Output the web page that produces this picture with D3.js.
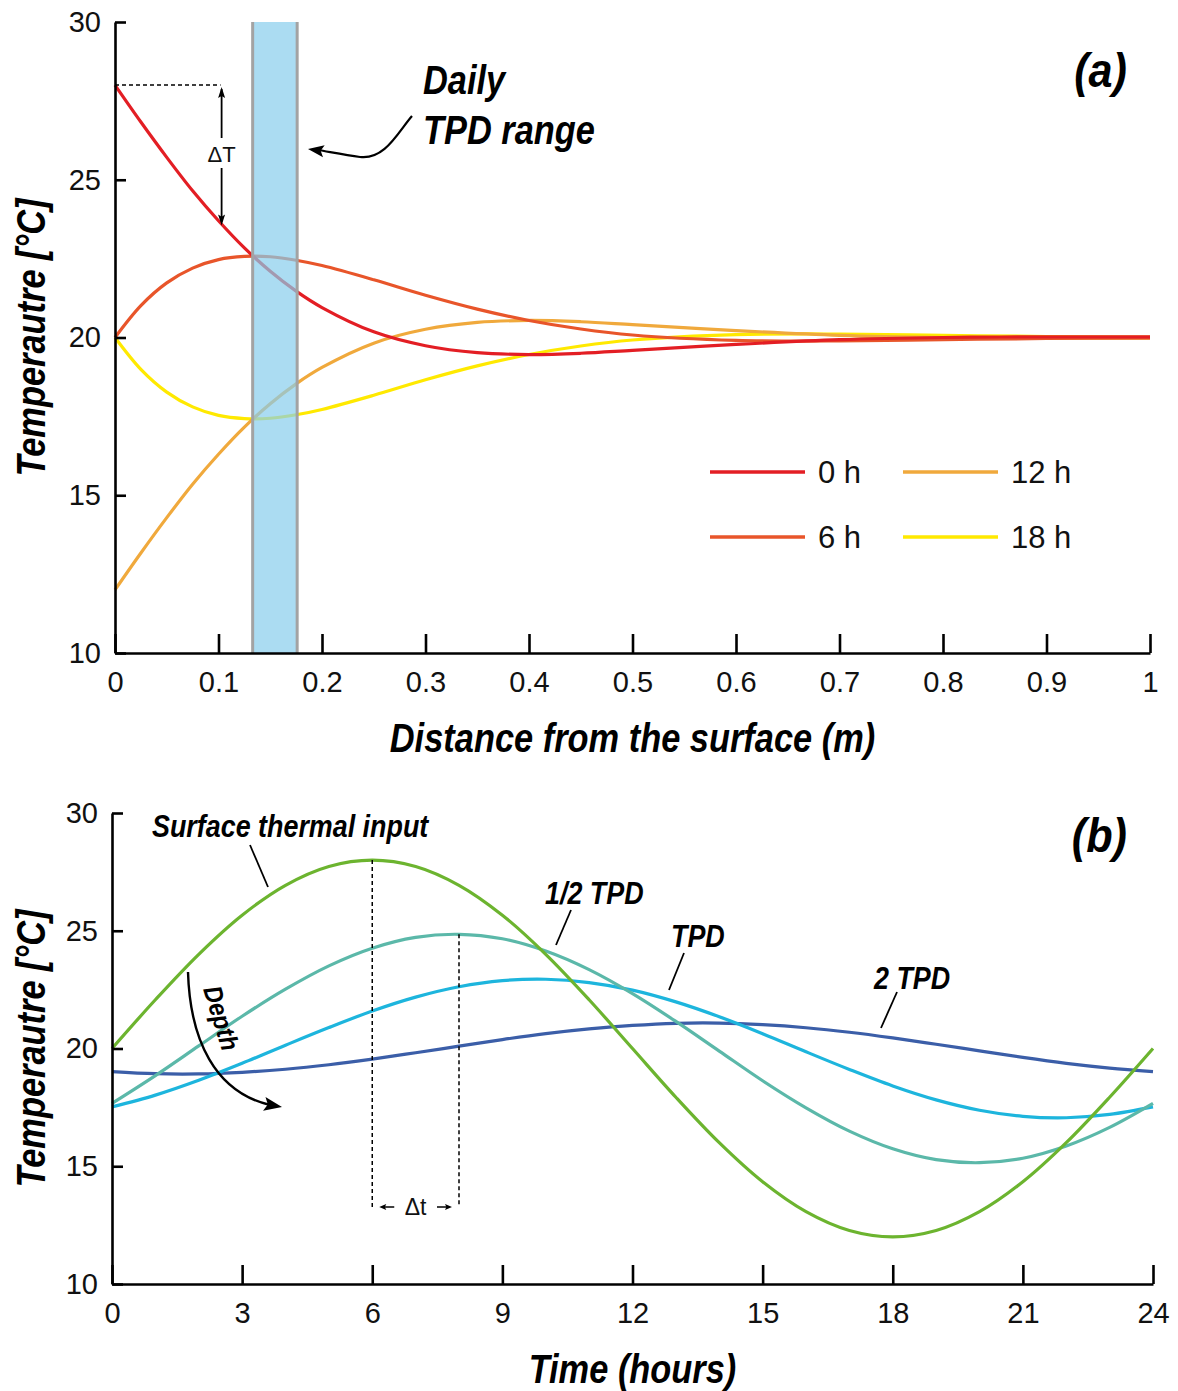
<!DOCTYPE html>
<html>
<head>
<meta charset="utf-8">
<script src="https://cdn.jsdelivr.net/npm/d3@7"></script>
<style>
  body { margin: 0; background: #fff; }
  svg { display: block; }
  .tick text { font-family: "Liberation Sans", Arial, sans-serif; font-size: 29px; fill: #111; }
  .ttl { font-family: "Liberation Sans Narrow", "Liberation Sans", Arial, sans-serif; font-weight: bold; font-style: italic; fill: #000; }
  .lbl { font-family: "Liberation Sans", Arial, sans-serif; fill: #111; }
</style>
</head>
<body>
<svg id="chart" width="1178" height="1391"></svg>
<script>
// ---- panel (a): temperature profile vs depth ----
const distance = [0, 0.025, 0.05, 0.075, 0.1, 0.125, 0.15, 0.175, 0.2, 0.25, 0.3, 0.35, 0.4, 0.45, 0.5, 0.6, 0.7, 0.8, 0.9, 1.0];
const temp0h  = [28, 26.83, 25.71, 24.65, 23.70, 22.84, 22.10, 21.47, 20.95, 20.18, 19.74, 19.52, 19.46, 19.50, 19.59, 19.78, 19.93, 20.0, 20.02, 20.02];
const temp6h  = [20, 21.01, 21.73, 22.20, 22.47, 22.57, 22.56, 22.45, 22.28, 21.83, 21.34, 20.90, 20.54, 20.27, 20.08, 19.91, 19.89, 19.93, 19.97, 19.99];
const temp12h = [12, 13.17, 14.29, 15.35, 16.30, 17.16, 17.90, 18.53, 19.05, 19.82, 20.26, 20.48, 20.54, 20.50, 20.41, 20.22, 20.07, 20.0, 19.98, 19.98];
const temp18h = [20, 18.99, 18.27, 17.80, 17.53, 17.43, 17.44, 17.55, 17.72, 18.17, 18.66, 19.10, 19.46, 19.73, 19.92, 20.09, 20.11, 20.07, 20.03, 20.01];
const profileNames = ["0 h", "6 h", "12 h", "18 h"];
const profileColors = ["#e31e24", "#e8552a", "#f0a93c", "#ffe900"];
const tpdRange = [0.133, 0.176];
const xTicksA = [0, 0.1, 0.2, 0.3, 0.4, 0.5, 0.6, 0.7, 0.8, 0.9, 1];
const yTicks = [10, 15, 20, 25, 30];

// ---- panel (b): temperature vs time at several depths ----
const hours = [0,1,2,3,4,5,6,7,8,9,10,11,12,13,14,15,16,17,18,19,20,21,22,23,24];
const surface = [20, 22.07, 24, 25.66, 26.93, 27.73, 28, 27.73, 26.93, 25.66, 24, 22.07, 20, 17.93, 16, 14.34, 13.07, 12.27, 12, 12.27, 13.07, 14.34, 16, 17.93, 20];
const halfTpd = [17.67, 18.85, 20.11, 21.37, 22.52, 23.51, 24.26, 24.72, 24.85, 24.66, 24.14, 23.35, 22.33, 21.15, 19.89, 18.63, 17.48, 16.49, 15.74, 15.28, 15.15, 15.34, 15.86, 16.65, 17.67];
const oneTpd  = [17.52, 18.02, 18.65, 19.37, 20.14, 20.89, 21.59, 22.18, 22.62, 22.88, 22.94, 22.80, 22.48, 21.98, 21.35, 20.63, 19.86, 19.11, 18.41, 17.82, 17.38, 17.12, 17.06, 17.20, 17.52];
const twoTpd  = [19.02, 18.93, 18.92, 18.99, 19.12, 19.31, 19.55, 19.82, 20.10, 20.38, 20.63, 20.83, 20.98, 21.07, 21.08, 21.01, 20.88, 20.69, 20.45, 20.18, 19.90, 19.62, 19.37, 19.17, 19.02];
const depthColors = ["#6cb42f", "#5bb8a9", "#1db5dd", "#3b5ea8"];
const xTicksB = [0, 3, 6, 9, 12, 15, 18, 21, 24];

const svg = d3.select("#chart");

const xA = d3.scaleLinear().domain([0, 1]).range([115, 1150]);
const yA = d3.scaleLinear().domain([10, 30]).range([653, 22]);
const xB = d3.scaleLinear().domain([0, 24]).range([112, 1153]);
const yB = d3.scaleLinear().domain([10, 30]).range([1284, 813]);

function drawAxes(x, y, xTicks) {
  const gx = svg.append("g")
    .attr("transform", `translate(0,${y.range()[0]})`)
    .call(d3.axisBottom(x).tickValues(xTicks).tickFormat(d => String(d))
      .tickSizeInner(-19).tickSizeOuter(0).tickPadding(18));
  const gy = svg.append("g")
    .attr("transform", `translate(${x.range()[0]},0)`)
    .call(d3.axisLeft(y).tickValues(yTicks).tickSizeInner(-11).tickSizeOuter(0).tickPadding(14));
  [gx, gy].forEach(g => {
    g.select(".domain").attr("stroke", "#000").attr("stroke-width", 2.6);
    g.selectAll(".tick line").attr("stroke", "#000").attr("stroke-width", 2.6);
  });
}

// condensed bold-italic text (no narrow font installed, so squeeze horizontally)
function title(x, y, text, size, opts = {}) {
  const sx = opts.sx || 0.86;
  const rot = opts.rotate ? ` rotate(${opts.rotate})` : "";
  return svg.append("text").attr("class", "ttl")
    .attr("transform", `translate(${x},${y})${rot} scale(${sx},1)`)
    .attr("text-anchor", opts.anchor || "start")
    .attr("font-size", size)
    .text(text);
}

function arrowHead(x, y, angle, len, wid) {
  // filled triangle with its tip at (x, y), pointing along angle (degrees)
  svg.append("path")
    .attr("d", `M0,0 L${-len},${-wid} L${-len * 0.8},0 L${-len},${wid} Z`)
    .attr("transform", `translate(${x},${y}) rotate(${angle})`)
    .attr("fill", "#000");
}

// ================= panel (a) =================
const lineA = d3.line().x(d => xA(d[0])).y(d => yA(d[1])).curve(d3.curveCatmullRom.alpha(0.5));
const profiles = [temp0h, temp6h, temp12h, temp18h];

svg.append("g").selectAll("path")
  .data(profiles.map((p, i) => ({ values: distance.map((x, j) => [x, p[j]]), color: profileColors[i] })).reverse())
  .join("path")
  .attr("d", d => lineA(d.values))
  .attr("fill", "none")
  .attr("stroke", d => d.color)
  .attr("stroke-width", 3.2);

// daily TPD band (drawn over the curves, semi-transparent)
svg.append("rect")
  .attr("x", xA(tpdRange[0])).attr("y", yA(30))
  .attr("width", xA(tpdRange[1]) - xA(tpdRange[0]))
  .attr("height", yA(10) - yA(30))
  .attr("fill", "#88cdec").attr("fill-opacity", 0.7);
tpdRange.forEach(v => {
  svg.append("line")
    .attr("x1", xA(v)).attr("x2", xA(v)).attr("y1", yA(30)).attr("y2", yA(10))
    .attr("stroke", "#a3a3a3").attr("stroke-width", 3);
});

drawAxes(xA, yA, xTicksA);

// legend
const legend = svg.append("g");
profileNames.forEach((name, i) => {
  const col = Math.floor(i / 2), row = i % 2;
  const lx = 710 + col * 193, ly = 472 + row * 65;
  legend.append("line").attr("x1", lx).attr("x2", lx + 95).attr("y1", ly).attr("y2", ly)
    .attr("stroke", profileColors[i]).attr("stroke-width", 3.5);
  legend.append("text").attr("class", "lbl").attr("x", lx + 108).attr("y", ly + 11)
    .attr("font-size", 31).text(name);
});

// delta T annotation
svg.append("line")
  .attr("x1", xA(0)).attr("x2", xA(0.102)).attr("y1", yA(28)).attr("y2", yA(28))
  .attr("stroke", "#000").attr("stroke-width", 1.5).attr("stroke-dasharray", "4,3");
const dTx = xA(0.103);
svg.append("line").attr("x1", dTx).attr("x2", dTx).attr("y1", yA(28) + 4).attr("y2", 138)
  .attr("stroke", "#000").attr("stroke-width", 1.8);
svg.append("line").attr("x1", dTx).attr("x2", dTx).attr("y1", 168).attr("y2", yA(temp0h[4] - 0.15) - 4)
  .attr("stroke", "#000").attr("stroke-width", 1.8);
arrowHead(dTx, yA(28) + 2, -90, 11, 3.5);
arrowHead(dTx, yA(temp0h[4] - 0.15), 90, 11, 3.5);
svg.append("text").attr("class", "lbl").attr("x", dTx).attr("y", 162)
  .attr("text-anchor", "middle").attr("font-size", 22).text("\u0394T");

// Daily TPD range label + curved arrow
title(423, 94, "Daily", 40);
title(423, 144, "TPD range", 40);
svg.append("path")
  .attr("d", "M412,116 C398,132 385,160 360,157 C345,155 330,152 318,150")
  .attr("fill", "none").attr("stroke", "#000").attr("stroke-width", 2.2);
arrowHead(308, 149, 188, 16, 6);

title(1127, 87, "(a)", 48, { anchor: "end", sx: 0.9 });

title(xA(0.5), 752, "Distance from the surface (m)", 40, { anchor: "middle" });
title(45, yA(20), "Temperautre [\u00B0C]", 40, { anchor: "middle", rotate: -90 });

// ================= panel (b) =================
const lineB = d3.line().x((d, i) => xB(hours[i])).y(d => yB(d)).curve(d3.curveCatmullRom.alpha(0.5));
const series = [surface, halfTpd, oneTpd, twoTpd];

svg.append("g").selectAll("path")
  .data(series.map((s, i) => ({ values: s, color: depthColors[i] })).reverse())
  .join("path")
  .attr("d", d => lineB(d.values))
  .attr("fill", "none")
  .attr("stroke", d => d.color)
  .attr("stroke-width", 3.2);

drawAxes(xB, yB, xTicksB);

// phase lag annotation
const lagY = 1207;
[[6, 28], [8, 24.85]].forEach(([t, v]) => {
  svg.append("line").attr("x1", xB(t)).attr("x2", xB(t)).attr("y1", yB(v)).attr("y2", lagY)
    .attr("stroke", "#000").attr("stroke-width", 1.5).attr("stroke-dasharray", "4,3");
});
svg.append("line").attr("x1", xB(6) + 22).attr("x2", xB(6) + 12).attr("y1", lagY).attr("y2", lagY)
  .attr("stroke", "#000").attr("stroke-width", 1.5);
arrowHead(xB(6) + 7, lagY, 180, 7, 3);
svg.append("line").attr("x1", xB(8) - 22).attr("x2", xB(8) - 12).attr("y1", lagY).attr("y2", lagY)
  .attr("stroke", "#000").attr("stroke-width", 1.5);
arrowHead(xB(8) - 7, lagY, 0, 7, 3);
svg.append("text").attr("class", "lbl").attr("x", (xB(6) + xB(8)) / 2).attr("y", lagY + 8)
  .attr("text-anchor", "middle").attr("font-size", 23).text("\u0394t");

// series labels with leader lines
const seriesLabels = [
  { text: "Surface thermal input", x: 152, y: 837, l: [250, 845, 268, 887] },
  { text: "1/2 TPD", x: 545, y: 904, l: [571, 910, 556, 945] },
  { text: "TPD", x: 671, y: 947, l: [684, 953, 669, 990] },
  { text: "2 TPD", x: 874, y: 989, l: [897, 992, 881, 1028] }
];
seriesLabels.forEach(d => {
  title(d.x, d.y, d.text, 32, { sx: 0.84 });
  svg.append("line").attr("x1", d.l[0]).attr("y1", d.l[1]).attr("x2", d.l[2]).attr("y2", d.l[3])
    .attr("stroke", "#000").attr("stroke-width", 1.8);
});

// depth arrow
svg.append("path")
  .attr("d", "M188,972 C190,1040 215,1092 270,1105")
  .attr("fill", "none").attr("stroke", "#000").attr("stroke-width", 2.4);
arrowHead(282, 1107, 10, 18, 7);
title(203, 989, "Depth", 26, { rotate: 73, sx: 0.9 }).attr("font-style", "normal");

title(1127, 852, "(b)", 48, { anchor: "end", sx: 0.9 });

title(xB(12), 1383, "Time (hours)", 40, { anchor: "middle" });
title(45, yB(20), "Temperautre [\u00B0C]", 40, { anchor: "middle", rotate: -90 });
</script>
</body>
</html>
